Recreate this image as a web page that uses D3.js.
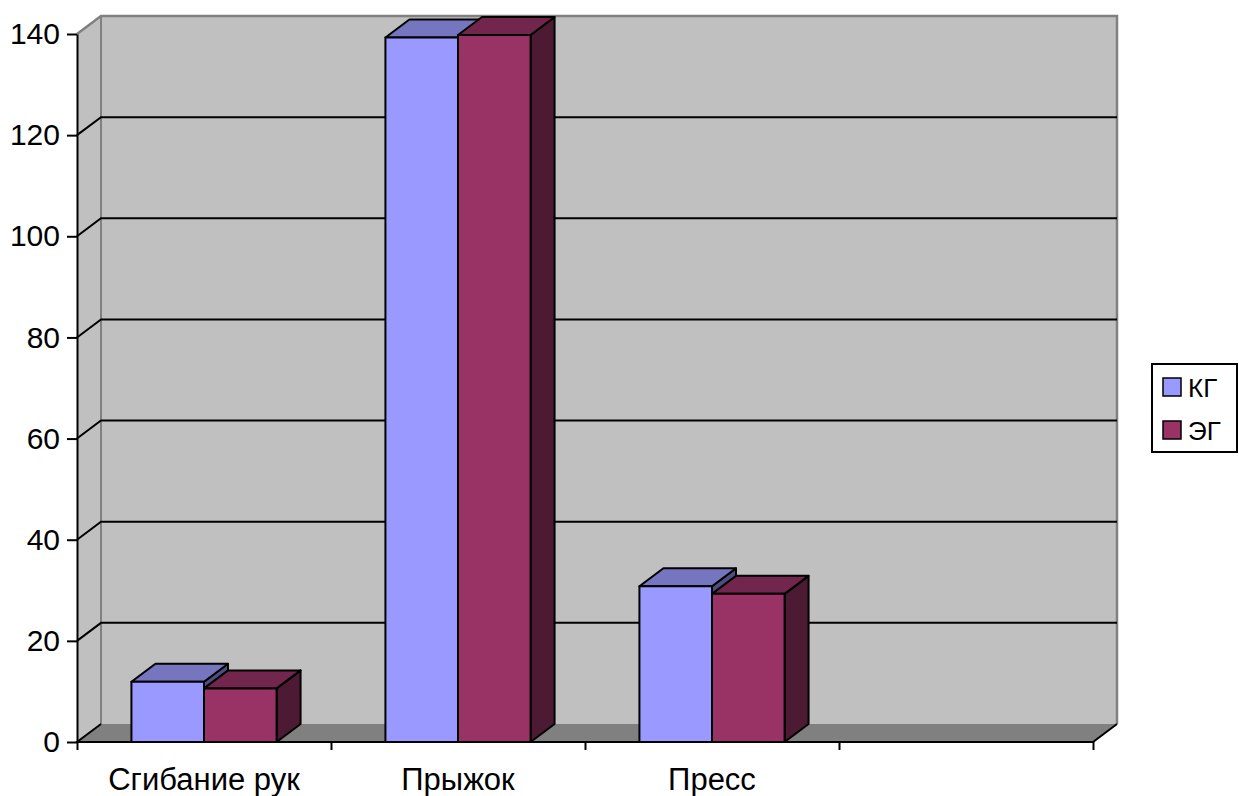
<!DOCTYPE html>
<html>
<head>
<meta charset="utf-8">
<script src="https://cdn.jsdelivr.net/npm/d3@7"></script>
<style>
  body { margin: 0; background: #fff; }
  svg { display: block; font-family: Arial, "Liberation Sans", sans-serif; }
</style>
</head>
<body>
<svg id="chart"></svg>
<script>
// chart data
const categories = ["Сгибание рук", "Прыжок", "Пресс", ""]
const seriesNames = ["КГ", "ЭГ"]
const kgValues = [11.9, 139.3, 30.8]
const egValues = [10.6, 139.8, 29.3]
const yTicks = [0, 20, 40, 60, 80, 100, 120, 140]

const width = 1239, height = 796
const plot = {left: 77, right: 1093, top: 34, bottom: 742},
      depth = {dx: 24, dy: -18}

const colors = {
  "КГ": {front: "#9999ff", top: "#7575c0", side: "#4d4d80"},
  "ЭГ": {front: "#993366", top: "#73264d", side: "#4d1a33"}
}

const svg = d3.select("#chart")
              .attr("width", width)
              .attr("height", height)

const y = d3.scaleLinear().domain([0, 140]).range([plot.bottom, plot.top])
const x = d3.scaleBand().domain(categories).range([plot.left, plot.right])
            .paddingInner(0).paddingOuter(0)
const xs = d3.scaleBand().domain(seriesNames).range([0, x.bandwidth()])
             .paddingInner(0).paddingOuter(0.75)

const pts = p => p.map(d => d.join(",")).join(" ")
const dx = depth.dx, dy = depth.dy

// walls and floor
svg.append("polygon") // back wall
   .attr("points", pts([[plot.left + dx, plot.top + dy], [plot.right + dx, plot.top + dy],
                        [plot.right + dx, plot.bottom + dy], [plot.left + dx, plot.bottom + dy]]))
   .attr("fill", "#c0c0c0")
svg.append("polygon") // side wall
   .attr("points", pts([[plot.left, plot.top], [plot.left + dx, plot.top + dy],
                        [plot.left + dx, plot.bottom + dy], [plot.left, plot.bottom]]))
   .attr("fill", "#c0c0c0")
svg.append("polygon") // floor
   .attr("points", pts([[plot.left, plot.bottom], [plot.left + dx, plot.bottom + dy],
                        [plot.right + dx, plot.bottom + dy], [plot.right, plot.bottom]]))
   .attr("fill", "#808080")

// wall edges
svg.append("polyline")
   .attr("points", pts([[plot.left, plot.top], [plot.left + dx, plot.top + dy],
                        [plot.right + dx, plot.top + dy], [plot.right + dx, plot.bottom + dy]]))
   .attr("fill", "none").attr("stroke", "#808080").attr("stroke-width", 2.5)
svg.append("line")
   .attr("x1", plot.left + dx).attr("x2", plot.left + dx)
   .attr("y1", plot.top + dy).attr("y2", plot.bottom + dy)
   .attr("stroke", "#808080").attr("stroke-width", 2)

// gridlines
const grid = yTicks.filter(v => v > 0 && v < 140)
svg.selectAll(".grid").data(grid).join("polyline")
   .attr("class", "grid")
   .attr("points", v => pts([[plot.left, y(v)], [plot.left + dx, y(v) + dy], [plot.right + dx, y(v) + dy]]))
   .attr("fill", "none").attr("stroke", "#000").attr("stroke-width", 2)

// floor edges
svg.append("polyline")
   .attr("points", pts([[plot.left + dx, plot.bottom + dy], [plot.left, plot.bottom],
                        [plot.right, plot.bottom], [plot.right + dx, plot.bottom + dy]]))
   .attr("fill", "none").attr("stroke", "#000").attr("stroke-width", 2)

// bars
const barData = []
categories.forEach((c, i) => {
  if (i < kgValues.length) {
    barData.push({cat: c, s: "КГ", v: kgValues[i]})
    barData.push({cat: c, s: "ЭГ", v: egValues[i]})
  }
})

const bars = svg.selectAll(".bar").data(barData).join("g").attr("class", "bar")
bars.each(function(d) {
  const g = d3.select(this)
  const x0 = x(d.cat) + xs(d.s), x1 = x0 + xs.bandwidth()
  const y0 = y(0), y1 = y(d.v)
  const col = colors[d.s]
  g.append("polygon") // side
   .attr("points", pts([[x1, y1], [x1 + dx, y1 + dy], [x1 + dx, y0 + dy], [x1, y0]]))
   .attr("fill", col.side)
  g.append("polygon") // top
   .attr("points", pts([[x0, y1], [x0 + dx, y1 + dy], [x1 + dx, y1 + dy], [x1, y1]]))
   .attr("fill", col.top)
  g.append("rect") // front
   .attr("x", x0).attr("y", y1).attr("width", x1 - x0).attr("height", y0 - y1)
   .attr("fill", col.front)
  g.selectAll("polygon, rect")
   .attr("stroke", "#000").attr("stroke-width", 2).attr("stroke-linejoin", "round")
})

// y axis
const yAxis = svg.append("g")
   .attr("transform", `translate(${plot.left},0)`)
   .call(d3.axisLeft(y).tickValues(yTicks).tickSize(10).tickPadding(7).tickSizeOuter(0))
yAxis.select(".domain").attr("stroke", "#000").attr("stroke-width", 2)
yAxis.selectAll(".tick line").attr("stroke", "#000").attr("stroke-width", 2)
yAxis.selectAll(".tick text")
     .attr("font-size", 30).attr("fill", "#000")
     .attr("font-family", "Arial, 'Liberation Sans', sans-serif")

// x axis ticks at category edges
const xEdge = d3.scaleLinear().domain([0, categories.length]).range([plot.left, plot.right])
const xAxis = svg.append("g")
   .attr("transform", `translate(0,${plot.bottom})`)
   .call(d3.axisBottom(xEdge).ticks(categories.length).tickFormat("").tickSize(8).tickSizeOuter(0))
xAxis.select(".domain").remove()
xAxis.selectAll(".tick line").attr("stroke", "#000").attr("stroke-width", 2)

svg.selectAll(".cat-label").data(categories).join("text")
   .attr("class", "cat-label")
   .attr("x", d => x(d) + x.bandwidth() / 2)
   .attr("y", 790)
   .attr("text-anchor", "middle")
   .attr("font-size", 31)
   .text(d => d)

// legend
const legend = svg.append("g")
legend.append("rect")
      .attr("x", 1152).attr("y", 364).attr("width", 85).attr("height", 88)
      .attr("fill", "#fff").attr("stroke", "#000").attr("stroke-width", 2)
seriesNames.forEach((s, i) => {
  legend.append("rect")
        .attr("x", 1163).attr("y", 378 + i * 43).attr("width", 18).attr("height", 18)
        .attr("fill", colors[s].front).attr("stroke", "#000").attr("stroke-width", 1.5)
  legend.append("text")
        .attr("x", 1188).attr("y", 397 + i * 43)
        .attr("font-size", 26)
        .text(s)
})
</script>
</body>
</html>
